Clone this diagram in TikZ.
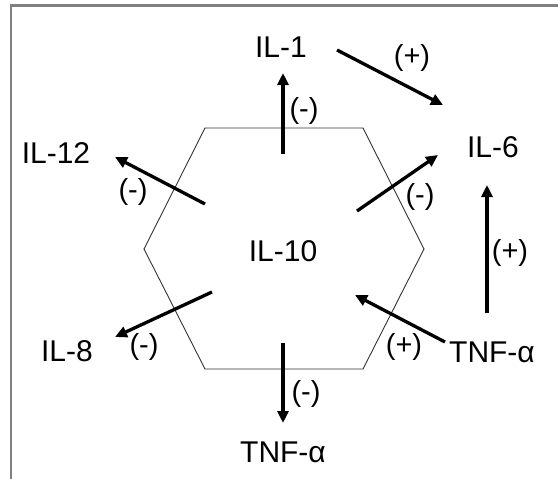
\documentclass[tikz,border=0pt]{standalone}
\usepackage{fontspec}
\setmainfont{Liberation Sans}
\usetikzlibrary{arrows.meta}

\begin{document}
\begin{tikzpicture}[
  x=1pt, y=-1pt,
  lbl/.style={inner sep=0pt, font=\fontsize{30}{32}\selectfont},
  sgn/.style={inner sep=0pt, font=\fontsize{29}{32}\selectfont},
  arr/.style={-{Triangle[length=12pt, width=11pt]}, line width=3.3pt},
  hexa/.style={draw=black!80, line width=0.9pt}
]
\useasboundingbox (0,0) rectangle (558,479);
\draw[gray, line width=2.2pt] (11,479) -- (11,5.5) -- (558,5.5);

\draw[hexa] (205,128) -- (363,128) -- (424,249) -- (363,369) -- (205,369) -- (144,249) -- cycle;

\node[lbl] (il10) at (283,251) {IL-10};
\node[lbl] (il1) at (281,47) {IL-1};
\node[lbl] (il6) at (493,147) {IL-6};
\node[lbl] (il12) at (56,153) {IL-12};
\node[lbl] (il8) at (67,351) {IL-8};
\node[lbl] (tnfb) at (283,452) {TNF-α};
\node[lbl] (tnfr) at (492,352) {TNF-α};

% arrow end points
\coordinate (up1) at (283,154);   \coordinate (up2) at (283,73);
\coordinate (i1a) at (337,50);    \coordinate (i1b) at (443,105);
\coordinate (i6a) at (357,211);   \coordinate (i6b) at (438,155);
\coordinate (i12a) at (205,204);  \coordinate (i12b) at (115,157);
\coordinate (i8a) at (212,292);   \coordinate (i8b) at (115,337);
\coordinate (tna) at (445,342);   \coordinate (tnb) at (355,295);
\coordinate (dn1) at (283,343);   \coordinate (dn2) at (283,423);
\coordinate (tva) at (487,313);   \coordinate (tvb) at (487,185);

\draw[arr] (up1) -- (up2);
\draw[arr] (i1a) -- (i1b);
\draw[arr] (i6a) -- (i6b);
\draw[arr] (i12a) -- (i12b);
\draw[arr] (i8a) -- (i8b);
\draw[arr] (tna) -- (tnb);
\draw[arr] (dn1) -- (dn2);
\draw[arr] (tva) -- (tvb);

\node[sgn] (s1) at (304,111) {(-)};
\node[sgn] (s2) at (412,58) {(+)};
\node[sgn] (s3) at (133,192) {(-)};
\node[sgn] (s4) at (420,197) {(-)};
\node[sgn] (s5) at (510,253) {(+)};
\node[sgn] (s6) at (144,347) {(-)};
\node[sgn] (s7) at (404,347) {(+)};
\node[sgn] (s8) at (306,394) {(-)};
\end{tikzpicture}
\end{document}
